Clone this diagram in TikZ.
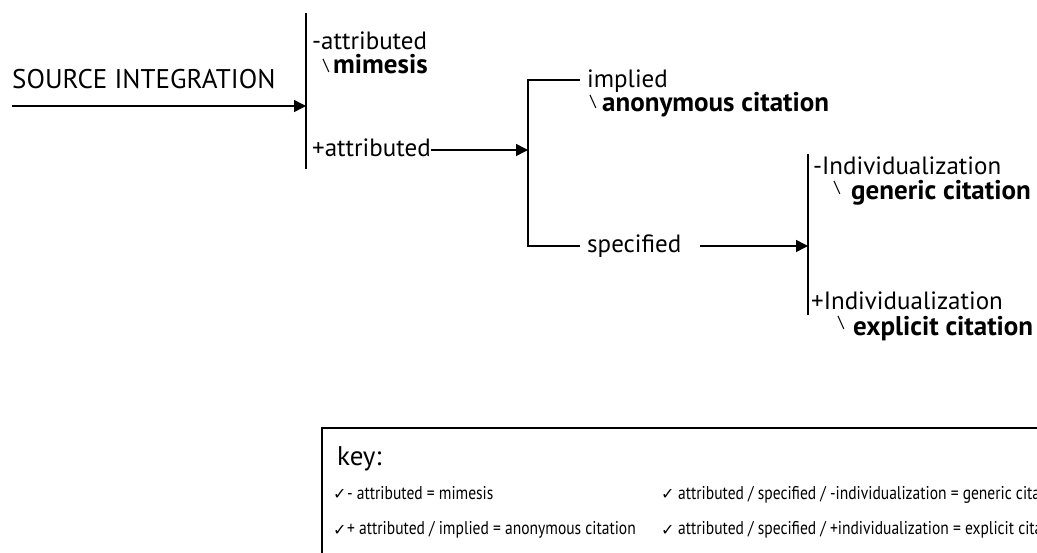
\documentclass[tikz,border=0pt]{standalone}
\usepackage{fontspec}
\setmainfont{PT Sans}
\newfontfamily\keyfont[FakeStretch=0.84]{PT Sans}
\newfontfamily\symfont{DejaVu Sans}
\usetikzlibrary{arrows.meta}
\begin{document}
\begin{tikzpicture}[x=1pt,y=-1pt,
  line/.style={line width=1.5pt},
  arr/.style={line width=1.5pt,-{Triangle[length=12pt,width=12pt]}},
  lbl/.style={anchor=base west,inner sep=0pt,font=\fontsize{25}{27}\selectfont},
  res/.style={anchor=base west,inner sep=0pt,font=\fontsize{27}{29}\selectfont\bfseries},
  bslash/.style={anchor=base west,inner sep=0pt,font=\fontsize{16}{18}\selectfont},
  keyt/.style={anchor=base west,inner sep=0pt,font=\fontsize{18.5}{20}\keyfont},
  chk/.style={anchor=base west,inner sep=0pt,font=\fontsize{16}{17}\symfont},
]
\clip (0,0) rectangle (1037,553);
% source
\node[lbl,font=\fontsize{27}{29}\selectfont] (src) at (12,89) {SOURCE INTEGRATION};
\coordinate (s0) at (12,106);
\coordinate (b1a) at (306,106);
\draw[arr] (s0) -- (b1a);
\coordinate (b1t) at (306,13);
\coordinate (b1b) at (306,169);
\draw[line] (b1t) -- (b1b);
\node[lbl] (na) at (312,50) {-attributed};
\node[bslash] (bs1) at (323,71) {\textbackslash};
\node[res] (mim) at (333,74) {mimesis};
\node[lbl] (pa) at (312,157) {+attributed};
\coordinate (b2a) at (528,150);
\draw[arr] (pa.east |- b2a) -- (b2a);
% second bracket
\coordinate (c2t) at (528,80);
\coordinate (c2b) at (528,246);
\coordinate (c2te) at (580,80);
\coordinate (c2be) at (580,246);
\draw[line] (c2te) -- (c2t) -- (c2b) -- (c2be);
\node[lbl] (imp) at (587,88) {implied};
\node[bslash] (bs2) at (590,107) {\textbackslash};
\node[res] (anon) at (602,112) {anonymous citation};
\node[lbl] (spec) at (587,253) {specified};
\coordinate (sp0) at (700,246);
\coordinate (b3a) at (808,246);
\draw[arr] (sp0) -- (b3a);
% third bar
\coordinate (b3t) at (808,154);
\coordinate (b3b) at (808,315);
\draw[line] (b3t) -- (b3b);
\node[lbl] (ni) at (813,175) {-Individualization};
\node[bslash] (bs3) at (834,193) {\textbackslash};
\node[res] (gen) at (851,200) {generic citation};
\node[lbl] (pi) at (811,310) {+Individualization};
\node[bslash] (bs4) at (838,328) {\textbackslash};
\node[res] (expl) at (853,336) {explicit citation};
% key box
\coordinate (kr) at (1045,428);
\coordinate (ktl) at (322,428);
\coordinate (kbl) at (322,560);
\draw[line] (kr) -- (ktl) -- (kbl);
\node[lbl,font=\fontsize{27}{29}\selectfont] (key) at (337,465) {key:};
\node[chk] (c1) at (333,500) {✓};
\node[keyt] (k1) at (347,499) {- attributed = mimesis};
\node[chk] (c2) at (333,535) {✓};
\node[keyt] (k2) at (347,534) {+ attributed / implied = anonymous citation};
\node[chk] (c3) at (661,500) {✓};
\node[keyt] (k3) at (678,499) {attributed / specified / -individualization = generic citation};
\node[chk] (c4) at (661,535) {✓};
\node[keyt] (k4) at (678,534) {attributed / specified / +individualization = explicit citation};
\end{tikzpicture}
\end{document}
